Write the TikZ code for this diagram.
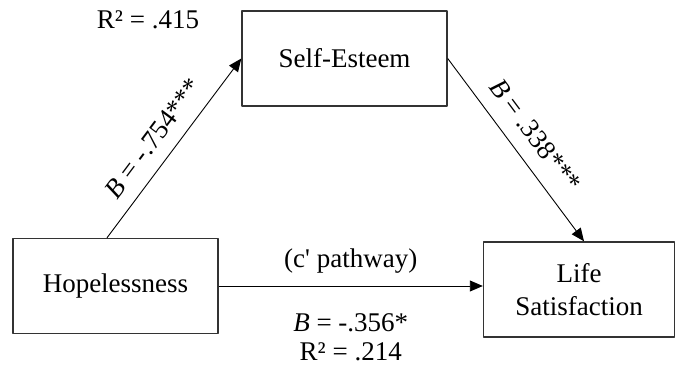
\documentclass[tikz,border=0pt]{standalone}
\usepackage{fontspec}
\setmainfont{Liberation Serif}
\usetikzlibrary{arrows.meta,positioning}
\begin{document}
\begin{tikzpicture}[>={Triangle[length=13pt,width=11pt]},line join=round,x=1pt,y=-1pt,font=\fontsize{27}{33}\selectfont]
	\tikzset{
		box/.style={draw=black!80,line width=1.4pt,minimum width=#1,minimum height=95pt,align=center,inner sep=0pt},
		link/.style={->,line width=0.9pt},
		lab/.style={inner sep=2pt}
	}
	\useasboundingbox (0,0) rectangle (676,371);
	\node[box=205pt] (hop) at (115.5,286) {Hopelessness};
	\node[box=205pt] (self) at (344.5,58.5) {Self-Esteem};
	\node[box=191pt] (life) at (579,289.5) {Life\\Satisfaction};
	\node[lab] (rself) at (148,20) {R² = .415};
	\draw[link] ([xshift=-8.5pt]hop.north) -- (self.west)
		node[lab,pos=.48,sloped,above=11pt] (bself) {\textit{B} = -.754***};
	\draw[link] (self.east) -- ([xshift=5pt]life.north)
		node[lab,pos=.5,sloped,above=13pt] (blife) {\textit{B} = .338***};
	\draw[link] (hop.east) -- (hop.east-|life.west)
		node[lab,midway,above=10pt] (cpath) {(c\textquotesingle{} pathway)}
		node[lab,midway,below=25pt] (bhop) {\textit{B} = -.356*};
	\node[lab,below=6pt of bhop.south] (rlife) {R² = .214};
\end{tikzpicture}
\end{document}
